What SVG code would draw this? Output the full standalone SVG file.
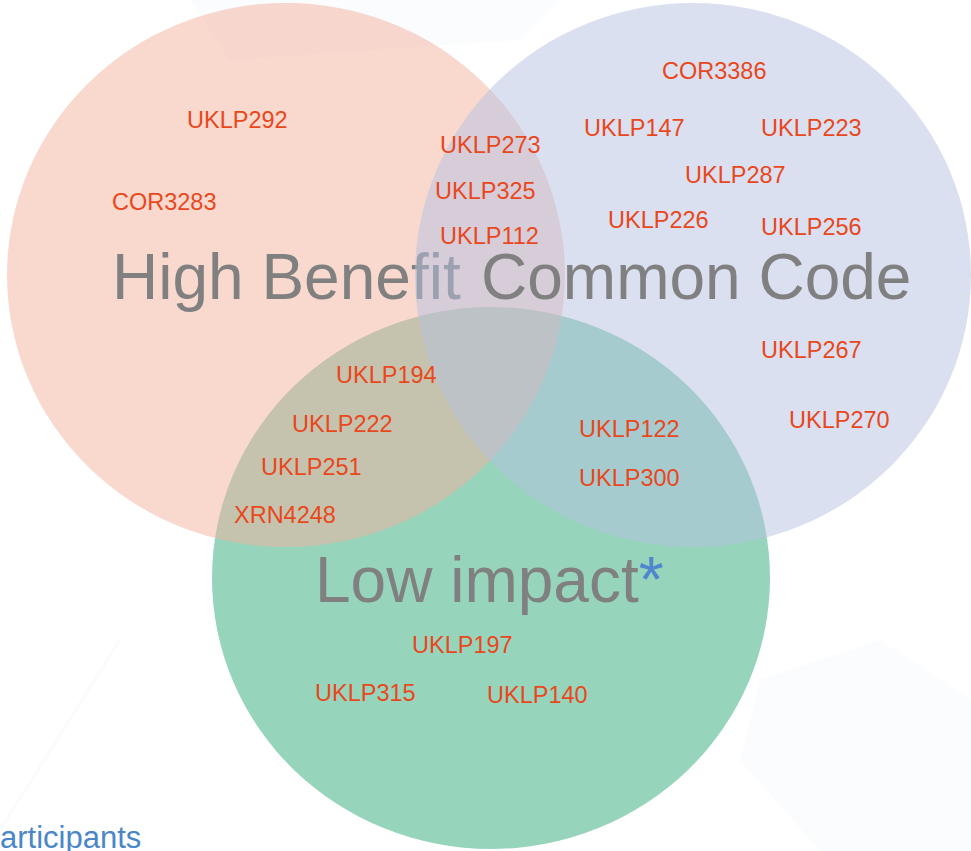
<svg xmlns="http://www.w3.org/2000/svg" width="971" height="851" viewBox="0 0 971 851">
<style>
  .set { fill-opacity: 0.5; }
  .title { font-family: "Liberation Sans", Arial, sans-serif; font-size: 64px; fill: #808080; }
  .lbl { font-family: "Liberation Sans", Arial, sans-serif; font-size: 23.5px; fill: #E9471C; }
  .note { font-family: "Liberation Sans", Arial, sans-serif; font-size: 31px; fill: #4A86C8; }
</style>
<rect width="971" height="851" fill="#FFFFFF"/>
<g id="background" opacity="0.3">
  <polygon points="190,0 560,0 520,40 230,60" fill="#EEF5FA"/>
  <polygon points="760,680 880,640 971,700 971,851 820,851 740,760" fill="#F3F6FA"/>
  <line x1="0" y1="830" x2="120" y2="640" stroke="#EEF3FA" stroke-width="3"/>
</g>
<g id="set-low-impact">
  <ellipse class="set" cx="491" cy="578" rx="279" ry="271" fill="#2FA979"/>
</g>
<g id="set-high-benefit">
  <ellipse class="set" cx="286" cy="275" rx="279" ry="272" fill="#F3B19D"/>
  <text class="title" x="112" y="299">High Benefit</text>
</g>
<g id="set-common-code">
  <ellipse class="set" cx="693" cy="275" rx="278" ry="272" fill="#B5C1E1"/>
  <text class="title" x="481" y="299">Common Code</text>
</g>
<g id="low-impact-title">
  <text class="title" x="315" y="602">Low impact<tspan fill="#4F86CF">*</tspan></text>
</g>
<g id="connectors"></g>
<g id="labels">
  <text class="lbl" x="187" y="128">UKLP292</text>
  <text class="lbl" x="112" y="210">COR3283</text>
  <text class="lbl" x="440" y="153">UKLP273</text>
  <text class="lbl" x="435" y="199">UKLP325</text>
  <text class="lbl" x="440" y="244">UKLP112</text>
  <text class="lbl" x="336" y="383">UKLP194</text>
  <text class="lbl" x="662" y="79">COR3386</text>
  <text class="lbl" x="584" y="136">UKLP147</text>
  <text class="lbl" x="761" y="136">UKLP223</text>
  <text class="lbl" x="685" y="183">UKLP287</text>
  <text class="lbl" x="608" y="228">UKLP226</text>
  <text class="lbl" x="761" y="235">UKLP256</text>
  <text class="lbl" x="761" y="358">UKLP267</text>
  <text class="lbl" x="789" y="428">UKLP270</text>
  <text class="lbl" x="292" y="432">UKLP222</text>
  <text class="lbl" x="261" y="475">UKLP251</text>
  <text class="lbl" x="234" y="523">XRN4248</text>
  <text class="lbl" x="579" y="437">UKLP122</text>
  <text class="lbl" x="579" y="486">UKLP300</text>
  <text class="lbl" x="412" y="653">UKLP197</text>
  <text class="lbl" x="315" y="701">UKLP315</text>
  <text class="lbl" x="487" y="703">UKLP140</text>
</g>
<g id="footnote">
  <text class="note" x="0" y="848">articipants</text>
</g>
</svg>
